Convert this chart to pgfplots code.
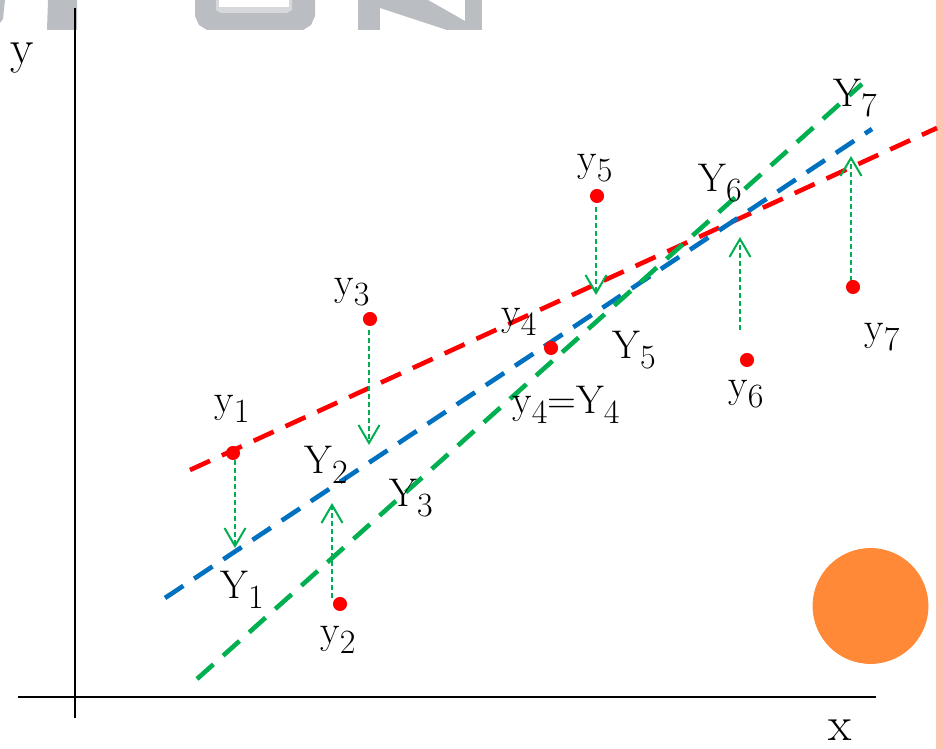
\documentclass[border=0pt]{standalone}
\usepackage{pgfplots}
\pgfplotsset{compat=1.18}
\usetikzlibrary{arrows.meta}
\definecolor{lred}{RGB}{255,0,0}
\definecolor{lblue}{RGB}{0,112,192}
\definecolor{lgreen}{RGB}{0,176,80}
\definecolor{orangeC}{RGB}{255,137,54}
\definecolor{pinkC}{RGB}{252,198,178}
\definecolor{wgray}{RGB}{186,189,193}
\definecolor{wlight}{RGB}{214,216,219}
\newcommand{\sub}[1]{\raisebox{-5pt}{\fontsize{17}{17}\selectfont #1}}
\newcommand{\lab}[2]{\fontsize{20}{24}\selectfont #1\sub{#2}}
\begin{document}
\begin{tikzpicture}
\begin{axis}[
  width=471.5pt, height=374.5pt, scale only axis,
  xmin=0, xmax=943, ymin=0, ymax=749,
  hide axis, clip=true,
  dline/.style={line width=2.3pt, dash pattern=on 11pt off 6.5pt},
  garrow/.style={lgreen, line width=1pt, dash pattern=on 2.5pt off 1.5pt,
     -{Straight Barb[length=9pt, width=10.5pt, line width=1pt]}},
]
% background
\addplot[fill=white, draw=none] coordinates {(0,0) (943,0) (943,749) (0,749)};
% watermark (decoration)
\addplot[fill=wgray, draw=none] coordinates {(48,749) (77,749) (77,719) (47,719)};
\addplot[fill=wgray, draw=none] coordinates {(0,749) (5,749) (3,730) (0,726)};
\addplot[fill=wgray, draw=none] coordinates {(195,749) (315,749) (315,733) (311,724) (303,719) (207,719) (199,724) (195,733)};
\addplot[fill=wlight, draw=none] coordinates {(216,749) (292,749) (292,739) (287,736) (221,736) (216,739)};
\addplot[fill=white, draw=none] coordinates {(219,749) (289,749) (289,742) (219,742)};
\addplot[fill=wgray, draw=none] coordinates {(358,749) (380,749) (380,719) (358,719)};
\addplot[fill=wgray, draw=none] coordinates {(380,749) (428,749) (465,728) (465,719) (447,719) (380,741)};
\addplot[fill=wgray, draw=none] coordinates {(465,749) (482,749) (482,719) (465,719)};
% pink side bar
\addplot[fill=pinkC, draw=none] coordinates {(936,0) (943,0) (943,749) (936,749)};
% orange circle
\addplot[only marks, mark=*, mark size=28.75pt, color=orangeC] coordinates {(870.5,143)};
% coordinate axes
\addplot[black, line width=1pt] coordinates {(75,741) (75,31)};
\addplot[black, line width=1.4pt] coordinates {(18,52) (876,52)};
% regression lines
\addplot[lred, dline] coordinates {(190,279) (937,621)};
\addplot[lblue, dline] coordinates {(165,151) (872,620)};
\addplot[lgreen, dline] coordinates {(197,70) (862,665)};
% residual arrows
\addplot[garrow] coordinates {(235,289) (235,201)};
\addplot[garrow] coordinates {(332,151) (332,246)};
\addplot[garrow] coordinates {(369,419) (369,304)};
\addplot[garrow] coordinates {(596,542) (596,454)};
\addplot[garrow] coordinates {(740,419) (740,512)};
\addplot[garrow] coordinates {(851,468) (851,593)};
% observed points
\addplot[only marks, mark=*, mark size=3.3pt, color=lred] coordinates {
 (233,296) (340,145) (370,430) (551,401) (597,553) (747,389) (853,462)};
% labels
\node at (axis cs:232,340) {\lab{y}{1}};
\node at (axis cs:242,159) {\lab{Y}{1}};
\node at (axis cs:338,109) {\lab{y}{2}};
\node at (axis cs:326,284) {\lab{Y}{2}};
\node at (axis cs:411,251) {\lab{Y}{3}};
\node at (axis cs:352,457) {\lab{y}{3}};
\node at (axis cs:519,427) {\lab{y}{4}};
\node at (axis cs:566,344) {\lab{y}{4}{\fontsize{20}{24}\selectfont=Y}\sub{4}};
\node at (axis cs:634,399) {\lab{Y}{5}};
\node at (axis cs:595,581) {\lab{y}{5}};
\node at (axis cs:720,566) {\lab{Y}{6}};
\node at (axis cs:746,355) {\lab{y}{6}};
\node at (axis cs:855,651) {\lab{Y}{7}};
\node at (axis cs:882,412) {\lab{y}{7}};
\node at (axis cs:22,691) {\fontsize{24}{28}\selectfont y};
\node at (axis cs:840,19) {\fontsize{24}{28}\selectfont x};
\end{axis}
\pgfresetboundingbox
\useasboundingbox (current axis.south west) rectangle (current axis.north east);
\end{tikzpicture}
\end{document}
